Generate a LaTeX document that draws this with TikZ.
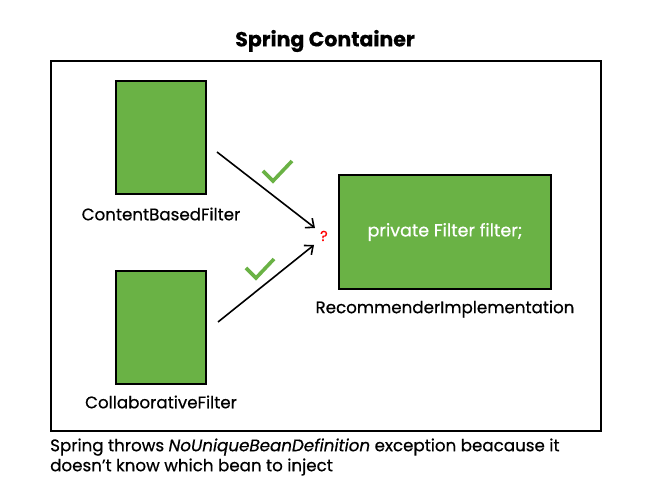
\documentclass[tikz,border=0pt]{standalone}
\usepackage{fontspec}
\setmainfont{Poppins}[FakeBold=0.6]
\usetikzlibrary{arrows.meta}
\definecolor{beanGreen}{HTML}{6AB245}

\begin{document}
\begin{tikzpicture}
[x=1pt,y=-1pt,%
  beanDecorate/.style={draw=black,line width=2pt,fill=beanGreen,anchor=north west},%
  labelDecorate/.style={font=\fontsize{16.7}{18}\selectfont},%
  lineDecorate/.style={-{Straight Barb[length=7pt,width=12pt]},line width=1.6pt},%
  tickDecorate/.style={draw=beanGreen,line width=3.6pt}]
\useasboundingbox (0,0) rectangle (651,502);
%% container
\node (container) [draw,line width=1.6pt,anchor=north west,minimum width=550pt,minimum height=370pt,inner sep=0pt] at (50,60) {};
\node (title) at (325,41) {\fontsize{20.5}{22}\selectfont\bfseries Spring Container};
%% beans
\foreach \nodename/\x/\y/\w/\h in {
  content/115/80/90/113, collab/115/270/90/113, recommender/338/174/212/114}
{
  \node (\nodename) at (\x,\y) [beanDecorate,minimum width=\w pt,minimum height=\h pt,inner sep=0pt] {};
}
\node at (recommender.center) [text=white,font=\fontsize{17.5}{19}\selectfont] {private Filter filter;};
%% labels
\foreach \nodename/\text/\y in {
  content/ContentBasedFilter/214, collab/CollaborativeFilter/402, recommender/RecommenderImplementation/309}
{
  \node (\nodename-label) at (\nodename.center |- 0,\y) [labelDecorate] {\text};
}
%% arrows
\coordinate (start1) at (217,152);
\coordinate (start2) at (218,322);
\coordinate (end1) at (315,228);
\coordinate (end2) at (314,245);
\draw[lineDecorate] (start1) -- (end1);
\draw[lineDecorate] (start2) -- (end2);
\node (question) at (324,236) [text=red,font=\fontsize{14.5}{16}\selectfont] {?};
%% ticks
\draw[tickDecorate] (263,171) -- (273,181) -- (292,161);
\draw[tickDecorate] (246,268) -- (256,278) -- (274,259);
%% note
\node (note) at (50,457) [anchor=west,align=left,font=\fontsize{16.7}{20}\selectfont,inner sep=0pt]
  {Spring throws \textit{NoUniqueBeanDefinition} exception beacause it\\doesn’t know which bean to inject};
\end{tikzpicture}
\end{document}
